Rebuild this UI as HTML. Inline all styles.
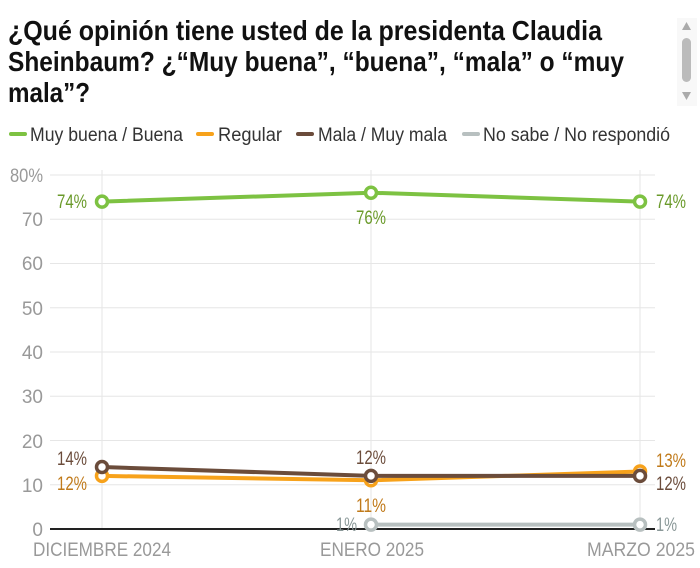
<!DOCTYPE html>
<html><head><meta charset="utf-8"><style>
body{margin:0;background:#fff;width:700px;height:568px;overflow:hidden;position:relative;font-family:"Liberation Sans",sans-serif;}
</style></head><body>
<div style="position:absolute;left:677px;top:18px;width:20px;height:88px;background:#f8f8f8"></div>
<div style="position:absolute;left:682px;top:38px;width:9px;height:44px;background:#bbb;border-radius:5px"></div>
<svg style="position:absolute;left:0;top:0" width="700" height="568" font-family="Liberation Sans, sans-serif" font-size="19">
<polygon points="682,30 691,30 686.5,22" fill="#aaa"/><polygon points="682,92 691,92 686.5,100" fill="#aaa"/>
<g font-size="28" font-weight="bold" fill="#111" lengthAdjust="spacingAndGlyphs">
<text x="8" y="40" textLength="594" lengthAdjust="spacingAndGlyphs">¿Qué opinión tiene usted de la presidenta Claudia</text>
<text x="8" y="71" textLength="616" lengthAdjust="spacingAndGlyphs">Sheinbaum? ¿“Muy buena”, “buena”, “mala” o “muy</text>
<text x="8" y="102" textLength="82" lengthAdjust="spacingAndGlyphs">mala”?</text>
</g>
<g stroke-width="4" stroke-linecap="round">
<line x1="11" x2="25" y1="134" y2="134" stroke="#7dc242"/><line x1="198" x2="212" y1="134" y2="134" stroke="#f7a21b"/><line x1="298" x2="312" y1="134" y2="134" stroke="#6b4c3b"/><line x1="464" x2="478" y1="134" y2="134" stroke="#b8c0c0"/>
</g>
<g fill="#333">
<text x="30" y="141" textLength="153" lengthAdjust="spacingAndGlyphs">Muy buena / Buena</text>
<text x="218" y="141" textLength="64" lengthAdjust="spacingAndGlyphs">Regular</text>
<text x="318" y="141" textLength="129" lengthAdjust="spacingAndGlyphs">Mala / Muy mala</text>
<text x="483" y="141" textLength="187" lengthAdjust="spacingAndGlyphs">No sabe / No respondió</text>
</g>
<g stroke="#e6e6e6" stroke-width="1">
<line x1="50" x2="655" y1="175" y2="175"/><line x1="50" x2="655" y1="219.3" y2="219.3"/><line x1="50" x2="655" y1="263.5" y2="263.5"/><line x1="50" x2="655" y1="307.8" y2="307.8"/><line x1="50" x2="655" y1="352" y2="352"/><line x1="50" x2="655" y1="396.3" y2="396.3"/><line x1="50" x2="655" y1="440.5" y2="440.5"/><line x1="50" x2="655" y1="484.8" y2="484.8"/>
<line x1="102" x2="102" y1="170" y2="529"/><line x1="371" x2="371" y1="170" y2="529"/><line x1="640" x2="640" y1="170" y2="529"/>
</g>
<line x1="50" x2="655" y1="529" y2="529" stroke="#222" stroke-width="2"/>
<g fill="#999" text-anchor="end">
<text x="43" y="182" textLength="33" lengthAdjust="spacingAndGlyphs">80%</text><text x="43" y="226">70</text><text x="43" y="270">60</text><text x="43" y="315">50</text><text x="43" y="359">40</text><text x="43" y="403">30</text><text x="43" y="448">20</text><text x="43" y="492">10</text><text x="43" y="536">0</text>
</g>
<g fill="#999" font-size="19">
<text x="33" y="556" textLength="138" lengthAdjust="spacingAndGlyphs">DICIEMBRE 2024</text><text x="320" y="556" textLength="104" lengthAdjust="spacingAndGlyphs">ENERO 2025</text><text x="587" y="556" textLength="108" lengthAdjust="spacingAndGlyphs">MARZO 2025</text>
</g>
<g stroke-width="4" fill="none">
<polyline points="371,524.6 640,524.6" stroke="#b8c0c0"/>
<polyline points="102,475.9 371,480.3 640,471.5" stroke="#f7a21b"/>
<polyline points="102,467 371,475.9 640,475.9" stroke="#6b4c3b"/>
<polyline points="102,201.6 371,192.7 640,201.6" stroke="#7dc242"/>
</g>
<g stroke-width="3.5" fill="#fff">
<circle cx="371" cy="524.6" r="5.5" stroke="#b8c0c0"/><circle cx="640" cy="524.6" r="5.5" stroke="#b8c0c0"/>
<circle cx="102" cy="475.9" r="5.5" stroke="#f7a21b"/><circle cx="371" cy="480.3" r="5.5" stroke="#f7a21b"/><circle cx="640" cy="471.5" r="5.5" stroke="#f7a21b"/>
<circle cx="102" cy="467" r="5.5" stroke="#6b4c3b"/><circle cx="371" cy="475.9" r="5.5" stroke="#6b4c3b"/><circle cx="640" cy="475.9" r="5.5" stroke="#6b4c3b"/>
<circle cx="102" cy="201.6" r="5.5" stroke="#7dc242"/><circle cx="371" cy="192.7" r="5.5" stroke="#7dc242"/><circle cx="640" cy="201.6" r="5.5" stroke="#7dc242"/>
</g>
<g fill="#6a9a2a"><text x="57" y="208" textLength="30" lengthAdjust="spacingAndGlyphs">74%</text><text x="356" y="224" textLength="30" lengthAdjust="spacingAndGlyphs">76%</text><text x="656" y="208" textLength="30" lengthAdjust="spacingAndGlyphs">74%</text></g>
<g fill="#6b4c3b"><text x="57" y="465" textLength="30" lengthAdjust="spacingAndGlyphs">14%</text><text x="356" y="464" textLength="30" lengthAdjust="spacingAndGlyphs">12%</text><text x="656" y="490" textLength="30" lengthAdjust="spacingAndGlyphs">12%</text></g>
<g fill="#c07a1a"><text x="57" y="490" textLength="30" lengthAdjust="spacingAndGlyphs">12%</text><text x="356" y="512" textLength="30" lengthAdjust="spacingAndGlyphs">11%</text><text x="656" y="467" textLength="30" lengthAdjust="spacingAndGlyphs">13%</text></g>
<g fill="#8a9898"><text x="336" y="531" textLength="21" lengthAdjust="spacingAndGlyphs">1%</text><text x="656" y="531" textLength="21" lengthAdjust="spacingAndGlyphs">1%</text></g>
</svg>
</body></html>
